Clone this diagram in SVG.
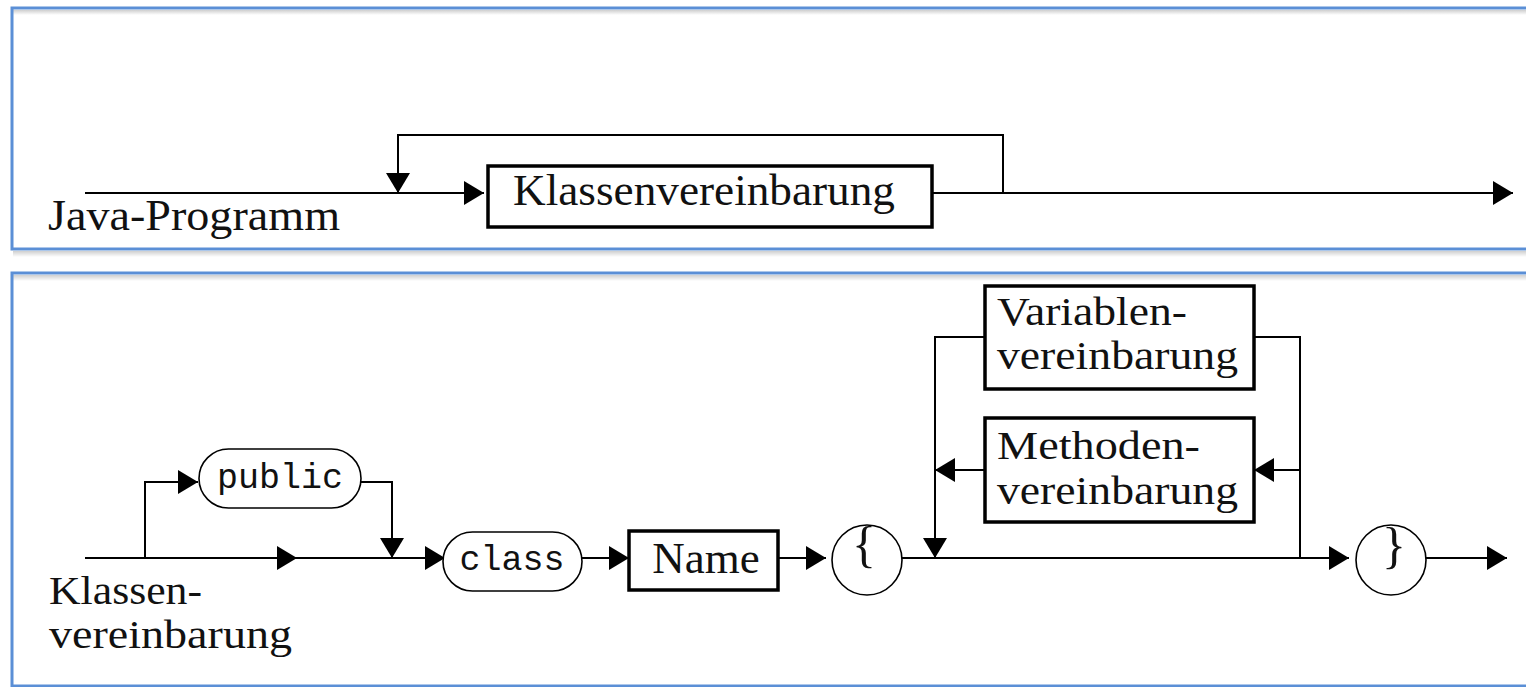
<svg xmlns="http://www.w3.org/2000/svg" width="1526" height="687" viewBox="0 0 1526 687">
<defs>
<marker id="ah" markerUnits="userSpaceOnUse" markerWidth="22" markerHeight="26" refX="20" refY="12" orient="auto" viewBox="0 0 22 26">
<path d="M0,0 L20,12 L0,24 Z" fill="#000"/>
</marker>
<linearGradient id="sh" x1="0" y1="0" x2="0" y2="1">
<stop offset="0" stop-color="#cfcfcf"/>
<stop offset="1" stop-color="#ffffff"/>
</linearGradient>
</defs>
<style>
.panel{fill:none;stroke:#5b8fd6;stroke-width:3}
.box{fill:#fff;stroke:#000;stroke-width:3.5}
.term{fill:#fff;stroke:#000;stroke-width:1.6}
.ln{fill:none;stroke:#000;stroke-width:2}
.t{font-family:"Liberation Serif","Times New Roman",serif;font-size:45px;fill:#111}
.t2{font-family:"Liberation Serif","Times New Roman",serif;font-size:41px;fill:#111}
.m{font-family:"Liberation Mono","Courier New",monospace;font-size:35px;fill:#111}
.br{font-family:"Liberation Serif","Times New Roman",serif;font-size:50px;fill:#111}
</style>
<rect width="1526" height="687" fill="#fff"/>
<g id="panel-top">
<rect x="13" y="10" width="1513" height="5" fill="url(#sh)"/>
<rect x="13" y="251" width="1513" height="6" fill="url(#sh)"/>
<rect class="panel" x="12" y="8" width="1540" height="241"/>
</g>
<g id="panel-bottom">
<rect x="13" y="275" width="1513" height="6" fill="url(#sh)"/>
<rect class="panel" x="12" y="273" width="1540" height="413"/>
</g>
<g id="connectors">
<path class="ln" d="M85,193 H484" marker-end="url(#ah)"/>
<path class="ln" d="M932,193 H1513" marker-end="url(#ah)"/>
<path class="ln" d="M1003,193 V135 H398 V193" marker-end="url(#ah)"/>
<path class="ln" d="M85,558 H297" marker-end="url(#ah)"/>
<path class="ln" d="M297,558 H445" marker-end="url(#ah)"/>
<path class="ln" d="M145,558 V482 H198" marker-end="url(#ah)"/>
<path class="ln" d="M361,482 H392 V558" marker-end="url(#ah)"/>
<path class="ln" d="M582,558 H629" marker-end="url(#ah)"/>
<path class="ln" d="M778,558 H826" marker-end="url(#ah)"/>
<path class="ln" d="M902,558 H1349" marker-end="url(#ah)"/>
<path class="ln" d="M985,337 H935 V558" marker-end="url(#ah)"/>
<path class="ln" d="M1254,337 H1300 V558"/>
<path class="ln" d="M1300,470 H1254" marker-end="url(#ah)"/>
<path class="ln" d="M985,470 H935" marker-end="url(#ah)"/>
<path class="ln" d="M1426,558 H1507" marker-end="url(#ah)"/>
</g>
<g id="label-java">
<text class="t" x="48" y="230" textLength="292" lengthAdjust="spacingAndGlyphs">Java-Programm</text>
</g>
<g id="node-klassenvereinbarung">
<rect class="box" x="488" y="166" width="444" height="61"/>
<text class="t" x="513" y="205" textLength="382" lengthAdjust="spacingAndGlyphs">Klassenvereinbarung</text>
</g>
<g id="label-klassen">
<text class="t2" x="49" y="604" textLength="153" lengthAdjust="spacingAndGlyphs">Klassen-</text>
<text class="t2" x="49" y="648" textLength="243" lengthAdjust="spacingAndGlyphs">vereinbarung</text>
</g>
<g id="node-public">
<rect class="term" x="199" y="449" width="162" height="59" rx="29.5"/>
<text class="m" x="280" y="488" text-anchor="middle">public</text>
</g>
<g id="node-class">
<rect class="term" x="443" y="532" width="139" height="59" rx="29.5"/>
<text class="m" x="512" y="570" text-anchor="middle">class</text>
</g>
<g id="node-name">
<rect class="box" x="629" y="531" width="149" height="59"/>
<text class="t" x="706" y="573" text-anchor="middle">Name</text>
</g>
<g id="node-lbrace">
<circle class="term" cx="867" cy="560" r="35"/>
<text class="br" x="864" y="561" text-anchor="middle">{</text>
</g>
<g id="node-variablen">
<rect class="box" x="985" y="286" width="269" height="103"/>
<text class="t2" x="997" y="325" textLength="190" lengthAdjust="spacingAndGlyphs">Variablen-</text>
<text class="t2" x="997" y="369" textLength="241" lengthAdjust="spacingAndGlyphs">vereinbarung</text>
</g>
<g id="node-methoden">
<rect class="box" x="985" y="418" width="269" height="104"/>
<text class="t2" x="997" y="459" textLength="203" lengthAdjust="spacingAndGlyphs">Methoden-</text>
<text class="t2" x="997" y="504" textLength="241" lengthAdjust="spacingAndGlyphs">vereinbarung</text>
</g>
<g id="node-rbrace">
<circle class="term" cx="1391" cy="560" r="35"/>
<text class="br" x="1394" y="562" text-anchor="middle">}</text>
</g>
</svg>
